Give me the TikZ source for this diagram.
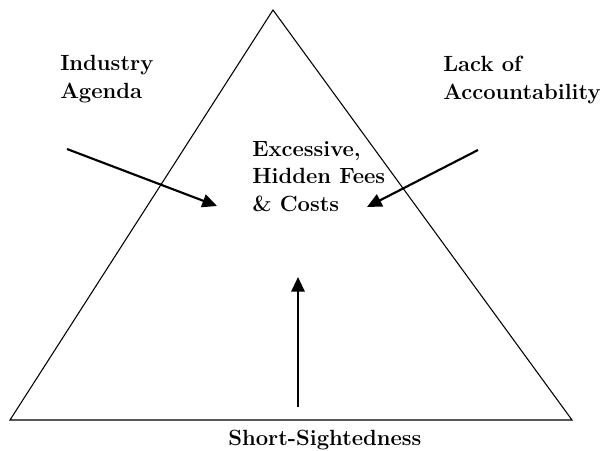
\documentclass[tikz,border=0pt]{standalone}
\usetikzlibrary{arrows.meta,positioning}

\begin{document}
\begin{tikzpicture}[
  x=0.75pt, y=-0.75pt,
  factor/.style={inner sep=0pt, align=left, anchor=base west, font=\fontsize{16.5}{20.5}\selectfont\bfseries},
  arrow/.style={-{Triangle[length=11pt, width=10pt]}, line width=1.6pt}
]
\useasboundingbox (0,0) rectangle (607,450);

\coordinate (apex) at (273,10);
\coordinate (lc) at (10,420);
\coordinate (rc) at (572,420);
\draw[line width=0.8pt] (apex) -- (lc) -- (rc) -- cycle;

\node[factor] (agenda) at (60,98) {Industry\\Agenda};
\node[factor] (account) at (443,99) {Lack of\\Accountability};
\node[factor] (fees) at (252,211) {Excessive,\\Hidden Fees\\\& Costs};
\node[factor] (short) at (228,445) {Short-Sightedness};

\coordinate (agendatail) at (67,149);
\coordinate (agendatip) at (217,206);
\coordinate (accounttail) at (478,150);
\coordinate (accounttip) at (367,207);
\coordinate (shorttail) at (298,407);
\coordinate (shorttip) at (298,277);

\draw[arrow] (agendatail) -- (agendatip);
\draw[arrow] (accounttail) -- (accounttip);
\draw[arrow] (shorttail) -- (shorttip);

\end{tikzpicture}
\end{document}
